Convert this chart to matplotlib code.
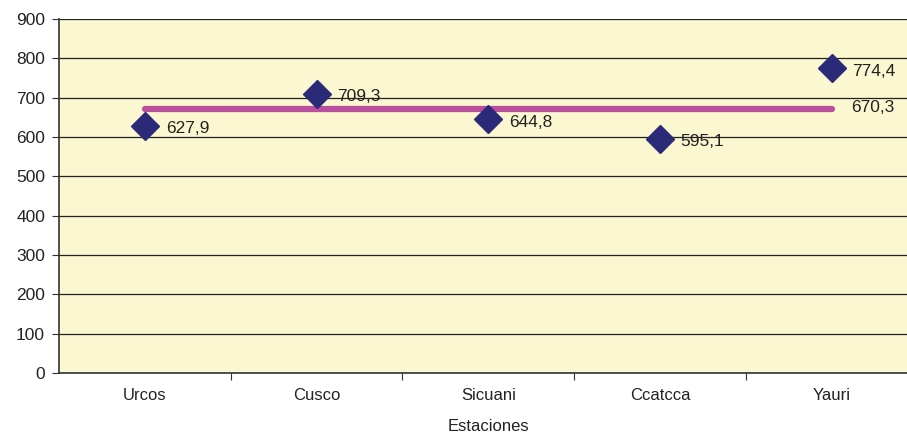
import matplotlib.pyplot as plt

plt.rcParams['font.family'] = ['Liberation Sans', 'DejaVu Sans']

estaciones = ['Urcos', 'Cusco', 'Sicuani', 'Ccatcca', 'Yauri']
valores = [627.9, 709.3, 644.8, 595.1, 774.4]
promedio = 670.3
etiquetas = ['627,9', '709,3', '644,8', '595,1', '774,4']
etiqueta_prom = '670,3'

fig = plt.figure(figsize=(9.07, 4.36), dpi=100)
W, H = 907, 436
left, right, top, bottom = 59, 917.5, 19, 373
ax = fig.add_axes([left / W, 1 - bottom / H, (right - left) / W, (bottom - top) / H])
ax.set_facecolor('#FBF7D0')

x = list(range(len(estaciones)))
ax.plot([x[0], x[-1]], [promedio, promedio], color='#B8509E', lw=4.5,
        solid_capstyle='round', zorder=3)
ax.plot(x, valores, linestyle='none', marker='D', markersize=14.5,
        color='#2A2A78', zorder=4)

fs = 12.5
for xi, v, t in zip(x, valores, etiquetas):
    ax.annotate(t, (xi, v), xytext=(15, -2), textcoords='offset points',
                ha='left', va='center', fontsize=fs, color='#222222')
ax.annotate(etiqueta_prom, (x[-1], promedio), xytext=(14, 1), textcoords='offset points',
            ha='left', va='center', fontsize=fs, color='#222222')

ax.set_xlim(-0.5, len(estaciones) - 0.5)
ax.set_ylim(0, 900)
ax.set_yticks(range(0, 901, 100))
ax.grid(axis='y', color='#222222', lw=0.9)
ax.set_axisbelow(True)

ax.set_xticks([i + 0.5 for i in range(len(estaciones) - 1)])
ax.set_xticklabels([])
ax.set_xticks(x, minor=True)
ax.set_xticklabels(estaciones, minor=True, fontsize=12, color='#222222')
ax.tick_params(axis='x', which='minor', length=0, pad=11)
ax.tick_params(axis='x', which='major', length=5, direction='out', color='#333333')
ax.tick_params(axis='y', length=5, direction='out', labelsize=12.5, labelcolor='#222222',
               color='#333333', pad=5)

for s in ['top', 'right']:
    ax.spines[s].set_visible(False)
ax.spines['left'].set_color('#333333')
ax.spines['bottom'].set_color('#333333')
ax.spines['left'].set_linewidth(1.2)
ax.spines['bottom'].set_linewidth(1.2)

ax.set_xlabel('Estaciones', fontsize=12, color='#222222', labelpad=11)

fig.savefig('out.png', dpi=100)
